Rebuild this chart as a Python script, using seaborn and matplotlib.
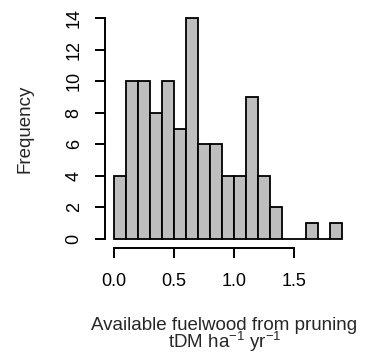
import matplotlib
matplotlib.use("Agg")
import matplotlib.pyplot as plt
import seaborn as sns
import numpy as np

bin_edges = [round(0.1 * i, 1) for i in range(20)]
bin_centers = [round(0.05 + 0.1 * i, 2) for i in range(19)]
counts = [4, 10, 10, 8, 10, 7, 14, 6, 6, 4, 4, 9, 4, 2, 0, 0, 1, 0, 1]
x_ticks = [0.0, 0.5, 1.0, 1.5]
x_tick_labels = ["0.0", "0.5", "1.0", "1.5"]
y_ticks = [0, 2, 4, 6, 8, 10, 12, 14]

sns.set_style("white")
plt.rcParams['font.family'] = ['Liberation Sans', 'DejaVu Sans']
plt.rcParams['mathtext.fontset'] = 'custom'
plt.rcParams['mathtext.rm'] = 'Liberation Sans'
plt.rcParams['mathtext.it'] = 'Liberation Sans'

FS = 13.5
TFS = 13
fig = plt.figure(figsize=(3.68, 3.54), dpi=100)
ax = fig.add_axes([0.285, 0.300, 0.669, 0.674])

sns.histplot(x=bin_centers, weights=counts, bins=bin_edges, ax=ax,
             color="#BEBEBE", edgecolor="black", linewidth=1.3, alpha=1.0)

ax.set_xlim(-0.076, 1.976)
ax.set_ylim(-0.56, 14.56)
for s in ["top", "right"]:
    ax.spines[s].set_visible(False)
ax.spines["left"].set_bounds(0, 14)
ax.spines["bottom"].set_bounds(0, 1.5)
for s in ["left", "bottom"]:
    ax.spines[s].set_linewidth(1.4)
    ax.spines[s].set_color("black")

ax.set_xticks(x_ticks)
ax.set_xticklabels(x_tick_labels)
ax.set_yticks(y_ticks)
ax.set_yticklabels([str(v) for v in y_ticks], rotation=90, va="center")
ax.tick_params(axis="both", direction="out", length=7, width=1.4, color="black",
               labelsize=TFS, labelcolor="black", left=True, bottom=True)
ax.tick_params(axis="x", pad=11)
ax.tick_params(axis="y", pad=9)

ax.set_xlabel("")
ax.set_ylabel("Frequency", fontsize=FS, labelpad=23)

fig.text(0.61, 1 - 325 / 354, "Available fuelwood from pruning", ha="center", va="center", fontsize=FS)
fig.text(0.61, 1 - 342 / 354, r"tDM ha$^{-1}$ yr$^{-1}$", ha="center", va="center", fontsize=FS)

fig.savefig("out.png", dpi=100)
